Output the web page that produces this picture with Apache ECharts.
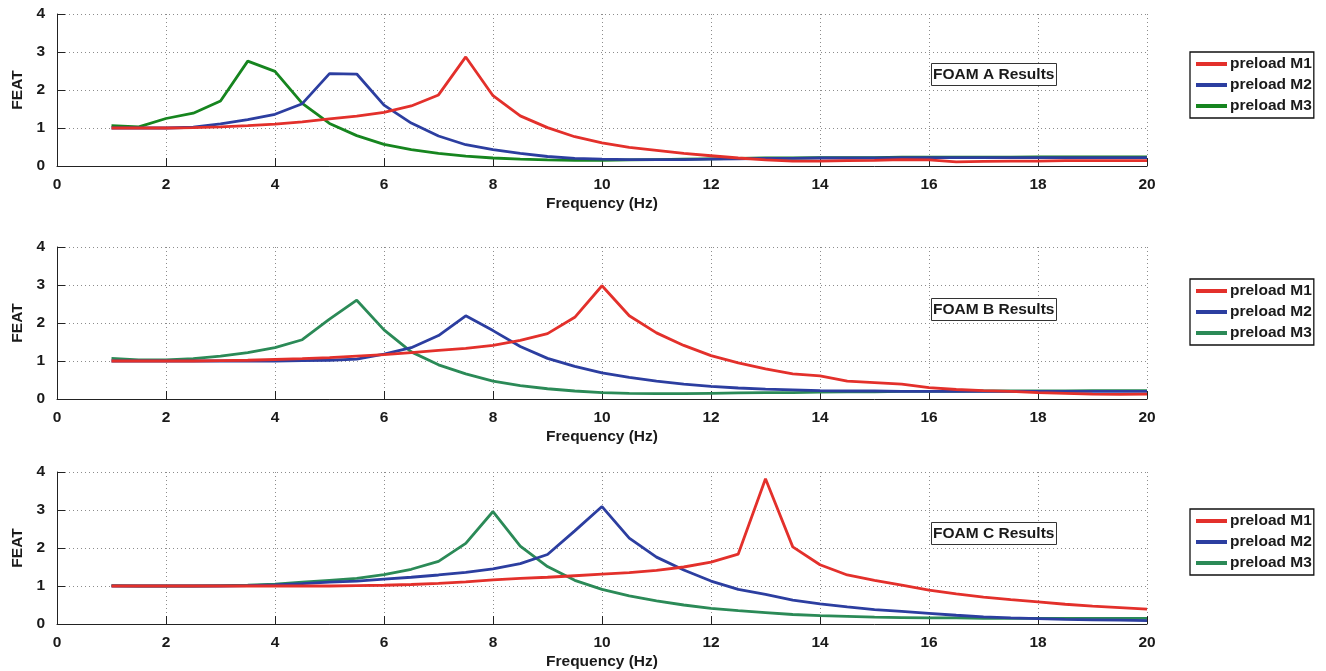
<!DOCTYPE html>
<html><head><meta charset="utf-8">
<script src="https://cdn.jsdelivr.net/npm/echarts@6/dist/echarts.min.js"></script>
<style>html,body{margin:0;padding:0;background:#fff}#c{width:1326px;height:671px}</style>
</head><body><div id="c"></div>
<script>
const freq = [1,1.5,2,2.5,3,3.5,4,4.5,5,5.5,6,6.5,7,7.5,8,8.5,9,9.5,10,10.5,11,11.5,12,12.5,13,13.5,14,14.5,15,15.5,16,16.5,17,17.5,18,18.5,19,19.5,20];
const seriesNames = ['preload M1','preload M2','preload M3'];
const panelTitles = ['FOAM A Results','FOAM B Results','FOAM C Results'];
const xTicks = [0,2,4,6,8,10,12,14,16,18,20];

// FOAM A
const aM1 = [1.0,1.0,1.0,1.01,1.03,1.06,1.1,1.16,1.24,1.31,1.41,1.58,1.87,2.87,1.85,1.32,1.01,0.77,0.61,0.49,0.41,0.33,0.27,0.21,0.16,0.13,0.13,0.14,0.15,0.17,0.16,0.11,0.12,0.13,0.13,0.14,0.14,0.14,0.14];
const aM2 = [1.0,1.0,1.0,1.02,1.11,1.22,1.36,1.64,2.43,2.42,1.6,1.13,0.79,0.56,0.43,0.33,0.25,0.2,0.18,0.17,0.17,0.17,0.18,0.19,0.2,0.2,0.21,0.21,0.21,0.22,0.22,0.22,0.22,0.22,0.22,0.22,0.22,0.22,0.22];
const aM3 = [1.06,1.03,1.25,1.39,1.71,2.76,2.49,1.65,1.12,0.8,0.57,0.43,0.33,0.26,0.21,0.18,0.16,0.15,0.15,0.16,0.17,0.18,0.19,0.2,0.21,0.21,0.22,0.22,0.22,0.23,0.23,0.23,0.23,0.23,0.24,0.24,0.24,0.24,0.24];
// FOAM B
const bM1 = [1.0,1.0,1.0,1.0,1.01,1.02,1.04,1.06,1.09,1.13,1.17,1.22,1.28,1.33,1.41,1.54,1.72,2.15,2.98,2.19,1.74,1.41,1.14,0.95,0.79,0.66,0.61,0.47,0.43,0.39,0.3,0.25,0.22,0.2,0.17,0.15,0.13,0.12,0.13];
const bM2 = [1.0,1.0,1.0,1.0,1.0,1.0,1.0,1.01,1.02,1.05,1.18,1.35,1.67,2.19,1.8,1.38,1.07,0.86,0.69,0.57,0.47,0.39,0.33,0.29,0.26,0.24,0.22,0.21,0.21,0.2,0.2,0.2,0.2,0.2,0.2,0.2,0.2,0.2,0.2];
const bM3 = [1.07,1.03,1.03,1.06,1.13,1.22,1.35,1.56,2.1,2.6,1.82,1.24,0.9,0.66,0.47,0.35,0.27,0.21,0.17,0.15,0.14,0.14,0.15,0.16,0.17,0.17,0.18,0.19,0.19,0.2,0.2,0.2,0.21,0.21,0.21,0.21,0.22,0.22,0.22];
// FOAM C
const cM1 = [1.0,1.0,1.0,1.0,1.0,1.0,1.0,1.0,1.0,1.01,1.02,1.04,1.07,1.11,1.16,1.2,1.23,1.27,1.31,1.35,1.41,1.5,1.63,1.84,3.82,2.03,1.56,1.29,1.15,1.02,0.89,0.79,0.71,0.64,0.58,0.52,0.47,0.43,0.39];
const cM2 = [1.0,1.0,1.0,1.0,1.0,1.01,1.03,1.06,1.1,1.13,1.18,1.23,1.29,1.36,1.45,1.59,1.83,2.45,3.09,2.26,1.76,1.42,1.13,0.91,0.78,0.63,0.53,0.45,0.38,0.33,0.28,0.23,0.19,0.16,0.14,0.12,0.11,0.1,0.09];
const cM3 = [1.01,1.0,1.0,1.0,1.01,1.02,1.05,1.1,1.15,1.2,1.3,1.44,1.65,2.12,2.96,2.05,1.51,1.15,0.91,0.74,0.61,0.5,0.41,0.35,0.3,0.25,0.22,0.2,0.18,0.17,0.16,0.16,0.15,0.15,0.15,0.15,0.15,0.15,0.15];

const panels = [[aM1,aM2,aM3],[bM1,bM2,bM3],[cM1,cM2,cM3]];
const colorsByPanel = [
  ['#e3302b','#2c3ea0','#16851f'],
  ['#e3302b','#2c3ea0','#2b8a57'],
  ['#e3302b','#2c3ea0','#2b8a57']
];
const gridTops = [14,247,472];
const gridHeights = [152,152,153];
const legendTops = [52,279,509];
const titleTops = [63,298,522];

const FONT = '"Liberation Sans", Arial, Helvetica, sans-serif';
const FS = 15.5;
const grids=[], xAxes=[], yAxes=[], series=[], legends=[], titles=[];
for (let p=0;p<3;p++){
  grids.push({left:57, width:1090, top:gridTops[p], height:gridHeights[p], containLabel:false});
  xAxes.push({type:'value', gridIndex:p, min:0, max:20, interval:2,
    name:'Frequency (Hz)', nameLocation:'middle', nameGap:30,
    nameTextStyle:{fontFamily:FONT, fontWeight:'bold', fontSize:FS, color:'#1a1a1a'},
    axisLine:{show:true, onZero:false, lineStyle:{color:'#222', width:1}},
    axisTick:{show:true, inside:true, length:8, lineStyle:{color:'#222'}},
    axisLabel:{fontFamily:FONT, fontWeight:'bold', fontSize:FS, color:'#1a1a1a', margin:11},
    splitLine:{show:true, lineStyle:{color:'#8c8c8c', type:[1,3], width:1}}
  });
  yAxes.push({type:'value', gridIndex:p, min:0, max:4, interval:1,
    name:'FEAT', nameLocation:'middle', nameGap:29, nameRotate:90,
    nameTextStyle:{fontFamily:FONT, fontWeight:'bold', fontSize:FS, color:'#1a1a1a'},
    axisLine:{show:true, lineStyle:{color:'#222', width:1}},
    axisTick:{show:true, inside:true, length:8, lineStyle:{color:'#222'}},
    axisLabel:{fontFamily:FONT, fontWeight:'bold', fontSize:FS, color:'#1a1a1a', margin:12},
    splitLine:{show:true, lineStyle:{color:'#8c8c8c', type:[1,3], width:1}}
  });
  for (let s=0;s<3;s++){
    series.push({type:'line', name:seriesNames[s], xAxisIndex:p, yAxisIndex:p,
      data: freq.map((f,i)=>[f, panels[p][s][i]]),
      symbol:'none', showSymbol:false, animation:false,
      lineStyle:{color:colorsByPanel[p][s], width:2.8}, itemStyle:{color:colorsByPanel[p][s]},
      z: 3 - s
    });
  }
  legends.push({orient:'vertical', left:1190, top:legendTops[p],
    backgroundColor:'#fff', borderColor:'#111', borderWidth:1.3, padding:[3,2,3,6],
    itemGap:3, itemWidth:31, itemHeight:4, icon:'rect',
    selectedMode:false,
    textStyle:{fontFamily:FONT, fontWeight:'bold', fontSize:FS, lineHeight:18, color:'#1a1a1a', padding:[0,0,0,-2]},
    data: seriesNames.map((n,s)=>({name:n, itemStyle:{color:colorsByPanel[p][s]}}))
  });
  titles.push({text:panelTitles[p], left:931, top:titleTops[p],
    borderColor:'#333', borderWidth:1, backgroundColor:'#fff', padding:[3,2,3,2],
    textStyle:{fontFamily:FONT, fontWeight:'bold', fontSize:FS, lineHeight:17, color:'#1a1a1a'}
  });
}
const chart = echarts.init(document.getElementById('c'), null, {renderer:'canvas'});
chart.setOption({animation:false, backgroundColor:'#fff', title:titles, grid:grids, xAxis:xAxes, yAxis:yAxes, legend:legends, series:series});
</script></body></html>
